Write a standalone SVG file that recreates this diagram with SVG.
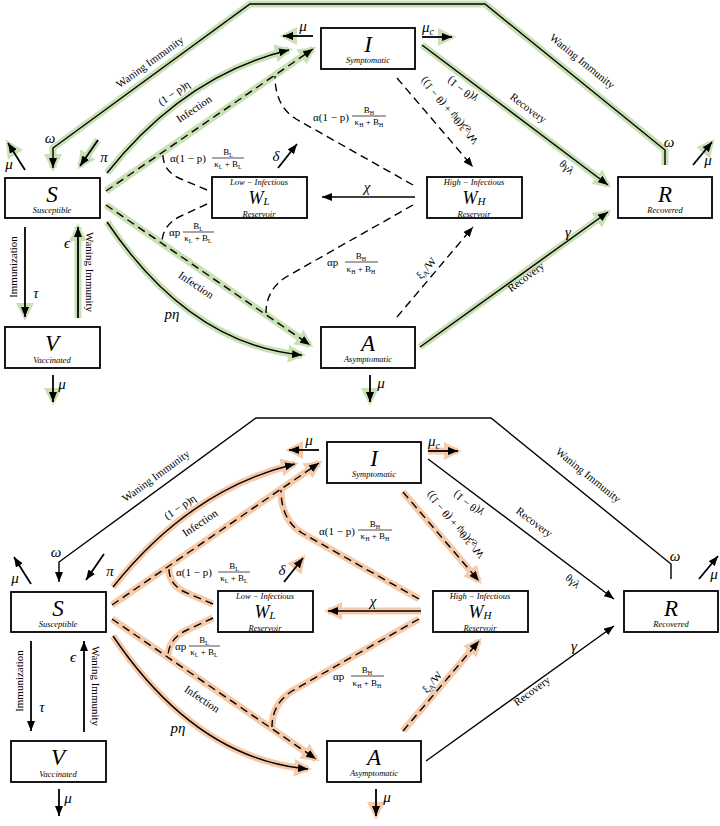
<svg xmlns="http://www.w3.org/2000/svg" width="720" height="826" viewBox="0 0 720 826" font-family="'Liberation Serif', 'Times New Roman', serif">
<defs>
<style>
.box{fill:#fff;stroke:#000;stroke-width:1.8}
.ln{fill:none;stroke:#000;stroke-width:1.4}
.th{fill:none;stroke:#000;stroke-width:1.8}
.ds{stroke-dasharray:8 5}
.gg{fill:none;stroke:#c9e0b4;stroke-width:7}
.go{fill:none;stroke:#f6caa9;stroke-width:7}
.nh{fill:none;stroke:none}
.fl{stroke:#000;stroke-width:0.7}
text{font-family:'Liberation Serif','Times New Roman',serif;fill:#000}
.big{font-size:23px;font-style:italic;text-anchor:middle}
.wb{font-size:18px;font-style:italic;text-anchor:middle}
.sub{font-size:8.5px;font-style:italic;text-anchor:middle}
.lab{font-size:11px;text-anchor:middle}
.gk{font-size:15px;font-style:italic;text-anchor:middle}
.fr{font-size:9px;text-anchor:middle}
.fm{font-size:11px}
.s6{font-size:6px}
</style>
<marker id="ah" viewBox="0 0 10 8" refX="10" refY="4" markerWidth="10" markerHeight="8" markerUnits="userSpaceOnUse" orient="auto"><path d="M0,0 L10,4 L0,8 z" fill="#000"/></marker>
<marker id="gh" viewBox="0 0 18 18" refX="14" refY="9" markerWidth="18" markerHeight="18" markerUnits="userSpaceOnUse" orient="auto"><path d="M0,0 L18,9 L0,18 z" fill="#c9e0b4"/></marker>
<marker id="oh" viewBox="0 0 18 18" refX="14" refY="9" markerWidth="18" markerHeight="18" markerUnits="userSpaceOnUse" orient="auto"><path d="M0,0 L18,9 L0,18 z" fill="#f6caa9"/></marker>
</defs>
<rect width="720" height="826" fill="#fff"/>

<!-- ================= TOP PANEL ================= -->
<g id="panel-top">
<g id="top-highlight">
<path class="gg" d="M665,165 L665,150 L485,4 L250,4 L53,148 L53,168" marker-end="url(#gh)"/>
<path class="nh" d="M25,170 L8,143" marker-end="url(#gh)"/>
<path class="gg" stroke-width="5" d="M98,140 L80,166" marker-end="url(#gh)"/>
<path class="gg" stroke-width="3" d="M107,173 Q185,75 289,50" marker-end="url(#gh)"/>
<path class="gg" d="M106,191 L313,49" marker-end="url(#gh)"/>
<path class="nh" d="M313,36 L283,36" marker-end="url(#gh)"/>
<path class="nh" d="M422,37 L452,37" marker-end="url(#gh)"/>
<path class="gg" d="M422,45 L608,185" marker-end="url(#gh)"/>
<path class="nh" d="M693,165 L712,142" marker-end="url(#gh)"/>
<path class="gg" d="M106,205 L310,345" marker-end="url(#gh)"/>
<path class="gg" stroke-width="4" d="M107,222 Q190,345 302,355" marker-end="url(#gh)"/>
<path class="gg" d="M420,347 L608,212" marker-end="url(#gh)"/>
<path class="nh" d="M370,375 L370,402" marker-end="url(#gh)"/>
<path class="nh" d="M25,227 L25,317" marker-end="url(#gh)"/>
<path class="gg" d="M78,318 L78,227" marker-end="url(#gh)"/>
<path class="nh" d="M53,375 L53,402" marker-end="url(#gh)"/>
</g>
<g id="top-connectors">
<path class="ln" d="M665,165 L665,150 L485,4 L250,4 L53,148 L53,168" marker-end="url(#ah)"/>
<path class="th" d="M25,170 L8,143" marker-end="url(#ah)"/>
<path class="th" d="M98,140 L80,166" marker-end="url(#ah)"/>
<path class="ln" d="M107,173 Q185,75 289,50" marker-end="url(#ah)"/>
<path class="ln ds" d="M106,191 L313,49" marker-end="url(#ah)"/>
<path class="th" d="M313,36 L283,36" marker-end="url(#ah)"/>
<path class="th" d="M422,37 L452,37" marker-end="url(#ah)"/>
<path class="ln" d="M422,45 L608,185" marker-end="url(#ah)"/>
<path class="th" d="M693,165 L712,142" marker-end="url(#ah)"/>
<path class="ln ds" d="M397,78 L473,167" marker-end="url(#ah)"/>
<path class="ln" d="M415,197 L322,197" marker-end="url(#ah)"/>
<path class="th" d="M278,168 L297,144" marker-end="url(#ah)"/>
<path class="ln ds" d="M413,185 L296,119 Q275,106 275,76"/>
<path class="ln ds" d="M207,190 L181,179 Q162,171 163,153"/>
<path class="ln ds" d="M207,204 L181,216 Q162,225 162,243"/>
<path class="ln ds" d="M413,205 L286,277 Q266,290 266,313"/>
<path class="ln ds" d="M106,205 L310,345" marker-end="url(#ah)"/>
<path class="ln" d="M107,222 Q190,345 302,355" marker-end="url(#ah)"/>
<path class="ln ds" d="M397,317 L473,227" marker-end="url(#ah)"/>
<path class="ln" d="M420,347 L608,212" marker-end="url(#ah)"/>
<path class="th" d="M370,375 L370,402" marker-end="url(#ah)"/>
<path class="th" d="M25,227 L25,317" marker-end="url(#ah)"/>
<path class="th" d="M78,318 L78,227" marker-end="url(#ah)"/>
<path class="th" d="M53,375 L53,402" marker-end="url(#ah)"/>
</g>
<g id="top-labels">
<text class="lab" transform="translate(152,65) rotate(-36)">Waning Immunity</text>
<text class="lab" transform="translate(580,64) rotate(39)">Waning Immunity</text>
<text class="gk" x="50" y="143">ω</text>
<text class="gk" x="669" y="147">ω</text>
<text class="gk" x="9" y="169">μ</text>
<text class="gk" x="104" y="162">π</text>
<text class="lab" font-size="12" transform="translate(176,96) rotate(-34)">(1 − p)η</text>
<text class="lab" transform="translate(196,112) rotate(-34)">Infection</text>
<text class="gk" x="303" y="31">μ</text>
<text class="gk" x="428" y="32">μ<tspan font-size="10" dy="3">c</tspan></text>
<text class="lab" font-size="12" transform="translate(462,90) rotate(37) scale(1,-1)" y="4">(1 − θ)γ</text>
<text class="lab" transform="translate(526,111) rotate(37)">Recovery</text>
<text class="lab" font-size="12" transform="translate(567,167) rotate(40)" y="4">θγλ</text>
<text class="gk" x="708" y="165">μ</text>
<text class="lab" font-size="12" transform="translate(449,111) rotate(50) scale(1,-1)" y="4">((1 − θ) + ψθ)ξ<tspan font-size="8" dy="2">S</tspan><tspan dy="-2">/W</tspan></text>
<text class="gk" x="367" y="192">χ</text>
<text class="gk" x="276" y="161">δ</text>
<text class="fm" x="313" y="121">α(1 − p)</text>
<text class="fr" x="369" y="113">B<tspan class="s6" dy="2">H</tspan></text>
<line class="fl" x1="352" y1="116" x2="386" y2="116"/>
<text class="fr" x="369" y="125">κ<tspan class="s6" dy="2">H</tspan><tspan dy="-2"> + B</tspan><tspan class="s6" dy="2">H</tspan></text>
<text class="fm" x="170" y="162">α(1 − p)</text>
<text class="fr" x="228" y="155">B<tspan class="s6" dy="2">L</tspan></text>
<line class="fl" x1="212" y1="158" x2="244" y2="158"/>
<text class="fr" x="228" y="167">κ<tspan class="s6" dy="2">L</tspan><tspan dy="-2"> + B</tspan><tspan class="s6" dy="2">L</tspan></text>
<text class="fm" x="169" y="236">αp</text>
<text class="fr" x="198" y="229">B<tspan class="s6" dy="2">L</tspan></text>
<line class="fl" x1="183" y1="232" x2="214" y2="232"/>
<text class="fr" x="198" y="241">κ<tspan class="s6" dy="2">L</tspan><tspan dy="-2"> + B</tspan><tspan class="s6" dy="2">L</tspan></text>
<text class="fm" x="327" y="266">αp</text>
<text class="fr" x="361" y="259">B<tspan class="s6" dy="2">H</tspan></text>
<line class="fl" x1="345" y1="262" x2="378" y2="262"/>
<text class="fr" x="361" y="272">κ<tspan class="s6" dy="2">H</tspan><tspan dy="-2"> + B</tspan><tspan class="s6" dy="2">H</tspan></text>
<text class="gk" x="172" y="319">pη</text>
<text class="lab" transform="translate(194,288) rotate(34)">Infection</text>
<text class="lab" font-size="12" transform="translate(426,268) rotate(-50)" y="4">ξ<tspan font-size="8" dy="2">A</tspan><tspan dy="-2">/W</tspan></text>
<text class="gk" x="568" y="237">γ</text>
<text class="lab" transform="translate(528,280) rotate(-36)">Recovery</text>
<text class="gk" x="381" y="388">μ</text>
<text class="gk" x="36" y="298">τ</text>
<text class="gk" x="67" y="248">ϵ</text>
<text class="lab" transform="translate(17,267) rotate(-90)">Immunization</text>
<text class="lab" transform="translate(86,272) rotate(90)">Waning Immunity</text>
<text class="gk" x="62" y="389">μ</text>
</g>
<g id="top-S"><rect class="box" x="5" y="178" width="95" height="40"/><text class="big" x="52" y="202">S</text><text class="sub" x="52" y="213">Susceptible</text></g>
<g id="top-V"><rect class="box" x="5" y="327" width="95" height="41"/><text class="big" x="52" y="351">V</text><text class="sub" x="52" y="363">Vaccinated</text></g>
<g id="top-I"><rect class="box" x="321" y="28" width="94" height="41"/><text class="big" x="368" y="52">I</text><text class="sub" x="368" y="63">Symptomatic</text></g>
<g id="top-WL"><rect class="box" x="212" y="177" width="95" height="41"/><text class="sub" x="259" y="184.5">Low − Infectious</text><text class="wb" x="259" y="203.5">W<tspan font-size="11" dy="1.5">L</tspan></text><text class="sub" x="259" y="216.5">Reservoir</text></g>
<g id="top-WH"><rect class="box" x="427" y="177" width="95" height="41"/><text class="sub" x="474" y="184.5">High − Infectious</text><text class="wb" x="474" y="203.5">W<tspan font-size="11" dy="1.5">H</tspan></text><text class="sub" x="474" y="216.5">Reservoir</text></g>
<g id="top-R"><rect class="box" x="618" y="177" width="94" height="41"/><text class="big" x="665" y="202">R</text><text class="sub" x="665" y="213">Recovered</text></g>
<g id="top-A"><rect class="box" x="321" y="327" width="94" height="41"/><text class="big" x="368" y="351">A</text><text class="sub" x="368" y="362">Asymptomatic</text></g>
</g>

<!-- ================= BOTTOM PANEL ================= -->
<g id="panel-bottom" transform="translate(6,414)">
<g id="bottom-highlight">
<path class="go" d="M107,173 Q185,75 289,50" marker-end="url(#oh)"/>
<path class="go" d="M106,191 L313,49" marker-end="url(#oh)"/>
<path class="nh" d="M313,36 L283,36" marker-end="url(#oh)"/>
<path class="go" d="M422,37 L452,37" marker-end="url(#oh)"/>
<path class="go" d="M397,78 L473,167" marker-end="url(#oh)"/>
<path class="go" d="M415,197 L322,197" marker-end="url(#oh)"/>
<path class="nh" d="M278,168 L297,144" marker-end="url(#oh)"/>
<path class="go" d="M413,185 L296,119 Q275,106 275,76"/>
<path class="go" d="M207,190 L181,179 Q162,171 163,153"/>
<path class="go" d="M207,204 L181,216 Q162,225 162,243"/>
<path class="go" d="M413,205 L286,277 Q266,290 266,313"/>
<path class="go" d="M106,205 L310,345" marker-end="url(#oh)"/>
<path class="go" d="M107,222 Q190,345 302,355" marker-end="url(#oh)"/>
<path class="go" d="M397,317 L473,227" marker-end="url(#oh)"/>
<path class="nh" d="M370,375 L370,402" marker-end="url(#oh)"/>
</g>
<g id="bottom-connectors">
<path class="ln" d="M665,165 L665,150 L485,4 L250,4 L53,148 L53,168" marker-end="url(#ah)"/>
<path class="th" d="M25,170 L8,143" marker-end="url(#ah)"/>
<path class="th" d="M98,140 L80,166" marker-end="url(#ah)"/>
<path class="ln" d="M107,173 Q185,75 289,50" marker-end="url(#ah)"/>
<path class="ln ds" d="M106,191 L313,49" marker-end="url(#ah)"/>
<path class="th" d="M313,36 L283,36" marker-end="url(#ah)"/>
<path class="th" d="M422,37 L452,37" marker-end="url(#ah)"/>
<path class="ln" d="M422,45 L608,185" marker-end="url(#ah)"/>
<path class="th" d="M693,165 L712,142" marker-end="url(#ah)"/>
<path class="ln ds" d="M397,78 L473,167" marker-end="url(#ah)"/>
<path class="ln" d="M415,197 L322,197" marker-end="url(#ah)"/>
<path class="th" d="M278,168 L297,144" marker-end="url(#ah)"/>
<path class="ln ds" d="M413,185 L296,119 Q275,106 275,76"/>
<path class="ln ds" d="M207,190 L181,179 Q162,171 163,153"/>
<path class="ln ds" d="M207,204 L181,216 Q162,225 162,243"/>
<path class="ln ds" d="M413,205 L286,277 Q266,290 266,313"/>
<path class="ln ds" d="M106,205 L310,345" marker-end="url(#ah)"/>
<path class="ln" d="M107,222 Q190,345 302,355" marker-end="url(#ah)"/>
<path class="ln ds" d="M397,317 L473,227" marker-end="url(#ah)"/>
<path class="ln" d="M420,347 L608,212" marker-end="url(#ah)"/>
<path class="th" d="M370,375 L370,402" marker-end="url(#ah)"/>
<path class="th" d="M25,227 L25,317" marker-end="url(#ah)"/>
<path class="th" d="M78,318 L78,227" marker-end="url(#ah)"/>
<path class="th" d="M53,375 L53,402" marker-end="url(#ah)"/>
</g>
<g id="bottom-labels">
<text class="lab" transform="translate(152,65) rotate(-36)">Waning Immunity</text>
<text class="lab" transform="translate(580,64) rotate(39)">Waning Immunity</text>
<text class="gk" x="50" y="143">ω</text>
<text class="gk" x="669" y="147">ω</text>
<text class="gk" x="9" y="169">μ</text>
<text class="gk" x="104" y="162">π</text>
<text class="lab" font-size="12" transform="translate(176,96) rotate(-34)">(1 − p)η</text>
<text class="lab" transform="translate(196,112) rotate(-34)">Infection</text>
<text class="gk" x="303" y="31">μ</text>
<text class="gk" x="428" y="32">μ<tspan font-size="10" dy="3">c</tspan></text>
<text class="lab" font-size="12" transform="translate(462,90) rotate(37) scale(1,-1)" y="4">(1 − θ)γ</text>
<text class="lab" transform="translate(526,111) rotate(37)">Recovery</text>
<text class="lab" font-size="12" transform="translate(567,167) rotate(40)" y="4">θγλ</text>
<text class="gk" x="708" y="165">μ</text>
<text class="lab" font-size="12" transform="translate(449,111) rotate(50) scale(1,-1)" y="4">((1 − θ) + ψθ)ξ<tspan font-size="8" dy="2">S</tspan><tspan dy="-2">/W</tspan></text>
<text class="gk" x="367" y="192">χ</text>
<text class="gk" x="276" y="161">δ</text>
<text class="fm" x="313" y="121">α(1 − p)</text>
<text class="fr" x="369" y="113">B<tspan class="s6" dy="2">H</tspan></text>
<line class="fl" x1="352" y1="116" x2="386" y2="116"/>
<text class="fr" x="369" y="125">κ<tspan class="s6" dy="2">H</tspan><tspan dy="-2"> + B</tspan><tspan class="s6" dy="2">H</tspan></text>
<text class="fm" x="170" y="162">α(1 − p)</text>
<text class="fr" x="228" y="155">B<tspan class="s6" dy="2">L</tspan></text>
<line class="fl" x1="212" y1="158" x2="244" y2="158"/>
<text class="fr" x="228" y="167">κ<tspan class="s6" dy="2">L</tspan><tspan dy="-2"> + B</tspan><tspan class="s6" dy="2">L</tspan></text>
<text class="fm" x="169" y="236">αp</text>
<text class="fr" x="198" y="229">B<tspan class="s6" dy="2">L</tspan></text>
<line class="fl" x1="183" y1="232" x2="214" y2="232"/>
<text class="fr" x="198" y="241">κ<tspan class="s6" dy="2">L</tspan><tspan dy="-2"> + B</tspan><tspan class="s6" dy="2">L</tspan></text>
<text class="fm" x="327" y="266">αp</text>
<text class="fr" x="361" y="259">B<tspan class="s6" dy="2">H</tspan></text>
<line class="fl" x1="345" y1="262" x2="378" y2="262"/>
<text class="fr" x="361" y="272">κ<tspan class="s6" dy="2">H</tspan><tspan dy="-2"> + B</tspan><tspan class="s6" dy="2">H</tspan></text>
<text class="gk" x="172" y="319">pη</text>
<text class="lab" transform="translate(194,288) rotate(34)">Infection</text>
<text class="lab" font-size="12" transform="translate(426,268) rotate(-50)" y="4">ξ<tspan font-size="8" dy="2">A</tspan><tspan dy="-2">/W</tspan></text>
<text class="gk" x="568" y="237">γ</text>
<text class="lab" transform="translate(528,280) rotate(-36)">Recovery</text>
<text class="gk" x="381" y="388">μ</text>
<text class="gk" x="36" y="298">τ</text>
<text class="gk" x="67" y="248">ϵ</text>
<text class="lab" transform="translate(17,267) rotate(-90)">Immunization</text>
<text class="lab" transform="translate(86,272) rotate(90)">Waning Immunity</text>
<text class="gk" x="62" y="389">μ</text>
</g>
<g id="bottom-S"><rect class="box" x="5" y="178" width="95" height="40"/><text class="big" x="52" y="202">S</text><text class="sub" x="52" y="213">Susceptible</text></g>
<g id="bottom-V"><rect class="box" x="5" y="327" width="95" height="41"/><text class="big" x="52" y="351">V</text><text class="sub" x="52" y="363">Vaccinated</text></g>
<g id="bottom-I"><rect class="box" x="321" y="28" width="94" height="41"/><text class="big" x="368" y="52">I</text><text class="sub" x="368" y="63">Symptomatic</text></g>
<g id="bottom-WL"><rect class="box" x="212" y="177" width="95" height="41"/><text class="sub" x="259" y="184.5">Low − Infectious</text><text class="wb" x="259" y="203.5">W<tspan font-size="11" dy="1.5">L</tspan></text><text class="sub" x="259" y="216.5">Reservoir</text></g>
<g id="bottom-WH"><rect class="box" x="427" y="177" width="95" height="41"/><text class="sub" x="474" y="184.5">High − Infectious</text><text class="wb" x="474" y="203.5">W<tspan font-size="11" dy="1.5">H</tspan></text><text class="sub" x="474" y="216.5">Reservoir</text></g>
<g id="bottom-R"><rect class="box" x="618" y="177" width="94" height="41"/><text class="big" x="665" y="202">R</text><text class="sub" x="665" y="213">Recovered</text></g>
<g id="bottom-A"><rect class="box" x="321" y="327" width="94" height="41"/><text class="big" x="368" y="351">A</text><text class="sub" x="368" y="362">Asymptomatic</text></g>
</g>
</svg>
